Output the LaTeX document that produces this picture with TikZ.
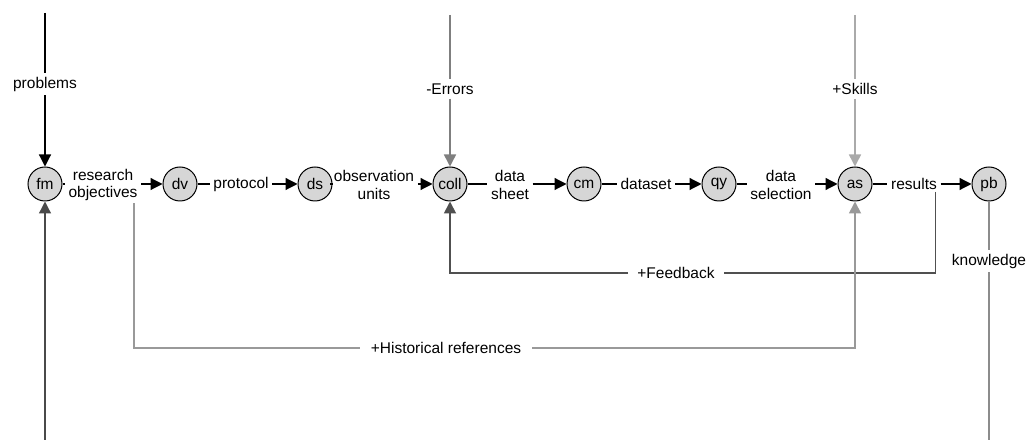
\documentclass[tikz,border=0pt]{standalone}
\usepackage{fontspec}
\setmainfont{Liberation Sans}
\usetikzlibrary{arrows.meta}
\definecolor{procfill}{HTML}{D6D6D6}
\definecolor{cErr}{HTML}{7F7F7F}
\definecolor{cSkill}{HTML}{AAAAAA}
\definecolor{cHist}{HTML}{999999}
\definecolor{cFeed}{HTML}{505050}
\definecolor{cKnow}{HTML}{8C8C8C}
\definecolor{cIn}{HTML}{4A4A4A}
\begin{document}
\begin{tikzpicture}[x=1pt,y=-1pt,
  proc/.style={circle,draw=black,line width=1pt,fill=procfill,minimum size=34pt,inner sep=0pt,font=\fontsize{15.5}{17.5}\selectfont},
  lab/.style={font=\fontsize{15.5}{17.5}\selectfont,align=center,inner xsep=3.5pt,inner ysep=2pt},
  vlab/.style={font=\fontsize{15.5}{17.5}\selectfont,inner xsep=2pt,inner ysep=4pt},
  hlab/.style={font=\fontsize{15.5}{17.5}\selectfont,inner xsep=9pt,inner ysep=2pt},
  conn/.style={line width=1.2pt,black},
  arr/.style={-{Triangle[length=12pt,width=12pt]}},
]
\useasboundingbox (0,0) rectangle (1029,443);
% process nodes
\node[proc] (fm) at (45,184) {fm};
\node[proc] (dv) at (180,184) {dv};
\node[proc] (ds) at (315,184) {ds};
\node[proc] (coll) at (450,184) {coll};
\node[proc] (cm) at (584,184) {cm};
\node[proc] (qy) at (719,184) {qy};
\node[proc] (as) at (855,184) {as};
\node[proc] (pb) at (989,184) {pb};
% edge labels
\node[lab] (l1) at (103,185) {research\\objectives};
\node[lab] (l2) at (241,184) {protocol};
\node[lab] (l3) at (374,185) {observation\\units};
\node[lab] (l4) at (510,185) {data\\sheet};
\node[lab] (l5) at (646,184) {dataset};
\node[lab] (l6) at (781,185) {data\\selection};
\node[lab] (l7) at (914,184) {results};
% main chain
\draw[conn] (fm.east) -- (l1.west |- fm.east);
\draw[conn,arr] (l1.east |- dv.west) -- (dv.west);
\draw[conn] (dv.east) -- (l2.west |- dv.east);
\draw[conn,arr] (l2.east |- ds.west) -- (ds.west);
\draw[conn] (ds.east) -- (l3.west |- ds.east);
\draw[conn,arr] (l3.east |- coll.west) -- (coll.west);
\draw[conn] (coll.east) -- (l4.west |- coll.east);
\draw[conn,arr] (l4.east |- cm.west) -- (cm.west);
\draw[conn] (cm.east) -- (l5.west |- cm.east);
\draw[conn,arr] (l5.east |- qy.west) -- (qy.west);
\draw[conn] (qy.east) -- (l6.west |- qy.east);
\draw[conn,arr] (l6.east |- as.west) -- (as.west);
\draw[conn] (as.east) -- (l7.west |- as.east);
\draw[conn,arr] (l7.east |- pb.west) -- (pb.west);
% inputs from top
\coordinate (ptop) at (45,13);
\node[vlab] (prob) at (45,84) {problems};
\draw[conn] (ptop) -- (prob.north);
\draw[conn,arr] (prob.south) -- (fm.north);
\coordinate (etop) at (450,15);
\node[vlab] (err) at (450,89) {-Errors};
\draw[line width=1.5pt,cErr] (etop) -- (err.north);
\draw[line width=1.5pt,cErr,arr] (err.south) -- (coll.north);
\coordinate (stop) at (855,15);
\node[vlab] (skl) at (855,89) {+Skills};
\draw[line width=1.5pt,cSkill] (stop) -- (skl.north);
\draw[line width=1.5pt,cSkill,arr] (skl.south) -- (as.north);
% input from bottom
\coordinate (fmbot) at (45,440);
\draw[line width=1.3pt,cIn,arr] (fmbot) -- (fm.south);
% output knowledge
\coordinate (pbbot) at (989,440);
\node[vlab] (know) at (989,261) {knowledge};
\draw[line width=1.5pt,cKnow] (pb.south) -- (know.north);
\draw[line width=1.5pt,cKnow] (know.south) -- (pbbot);
% feedback loop
\coordinate (fbstart) at ([xshift=-5pt]l7.south east);
\node[hlab] (fb) at (676,273) {+Feedback};
\draw[line width=1.8pt,cFeed] (fbstart) |- (fb.east);
\draw[line width=1.8pt,cFeed,arr] (fb.west) -| (coll.south);
% historical references loop
\coordinate (hstart) at ([xshift=-7pt]l1.south east);
\node[hlab,inner xsep=11pt] (hist) at (446,348) {+Historical references};
\draw[line width=1.8pt,cHist] (hstart) |- (hist.west);
\draw[line width=1.8pt,cHist,arr] (hist.east) -| (as.south);
\end{tikzpicture}
\end{document}
